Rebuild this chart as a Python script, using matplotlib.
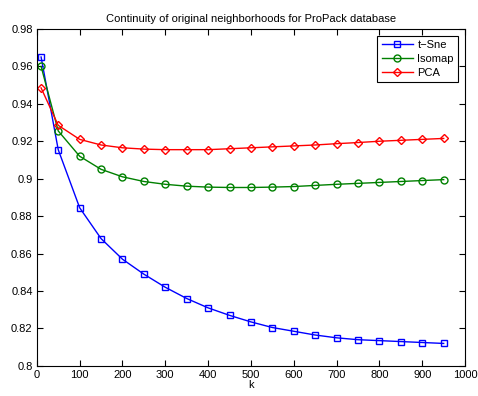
import numpy as np
import matplotlib
matplotlib.use('Agg')
from matplotlib import pyplot as plt

k = [10, 50, 100, 150, 200, 250, 300, 350, 400, 450, 500,
     550, 600, 650, 700, 750, 800, 850, 900, 950]
tsne = [0.965, 0.9155, 0.8845, 0.868, 0.857, 0.849, 0.842, 0.836, 0.831, 0.827, 0.8235,
        0.8205, 0.8185, 0.8165, 0.815, 0.814, 0.8135, 0.813, 0.8125, 0.812]
isomap = [0.960, 0.9255, 0.912, 0.905, 0.901, 0.8985, 0.897, 0.896, 0.8955, 0.8953, 0.8953,
          0.8955, 0.8958, 0.8964, 0.897, 0.8975, 0.898, 0.8985, 0.899, 0.8995]
pca = [0.9485, 0.9285, 0.921, 0.918, 0.9165, 0.9158, 0.9155, 0.9155, 0.9155, 0.916, 0.9165,
       0.917, 0.9175, 0.918, 0.9187, 0.9193, 0.920, 0.9205, 0.921, 0.9215]

plt.rcParams['font.family'] = ['Liberation Sans', 'DejaVu Sans']
fig = plt.figure(figsize=(4.78, 3.96), dpi=100)
ax = fig.add_axes([0.077, 0.076, 0.896, 0.851])

ax.plot(k, tsne, color='#0000ff', marker='s', markersize=4.2, markerfacecolor='none', lw=1, label='t\u2212Sne')
ax.plot(k, isomap, color='#008000', marker='o', markersize=5, markerfacecolor='none', lw=1, label='Isomap')
ax.plot(k, pca, color='#ff0000', marker='D', markersize=4.2, markerfacecolor='none', lw=1, label='PCA')

ax.set_xlim(0, 1000)
ax.set_ylim(0.8, 0.98)
ax.set_xticks(np.arange(0, 1001, 100))
ax.set_yticks(np.arange(0.8, 0.981, 0.02))
ax.set_yticklabels(['0.8', '0.82', '0.84', '0.86', '0.88', '0.9', '0.92', '0.94', '0.96', '0.98'])
ax.tick_params(direction='in', top=True, right=True, labelsize=8, length=4, pad=3)
ax.set_xlabel('k', fontsize=8, labelpad=0)
ax.set_title('Continuity of original neighborhoods for ProPack database', fontsize=8, pad=5)

leg = ax.legend(loc='upper right', fontsize=8, fancybox=False, framealpha=1,
                edgecolor='black', handlelength=2.8, borderaxespad=0.6,
                labelspacing=0.35, handletextpad=0.4)
leg.get_frame().set_linewidth(0.8)

fig.savefig('out.png', dpi=100)
